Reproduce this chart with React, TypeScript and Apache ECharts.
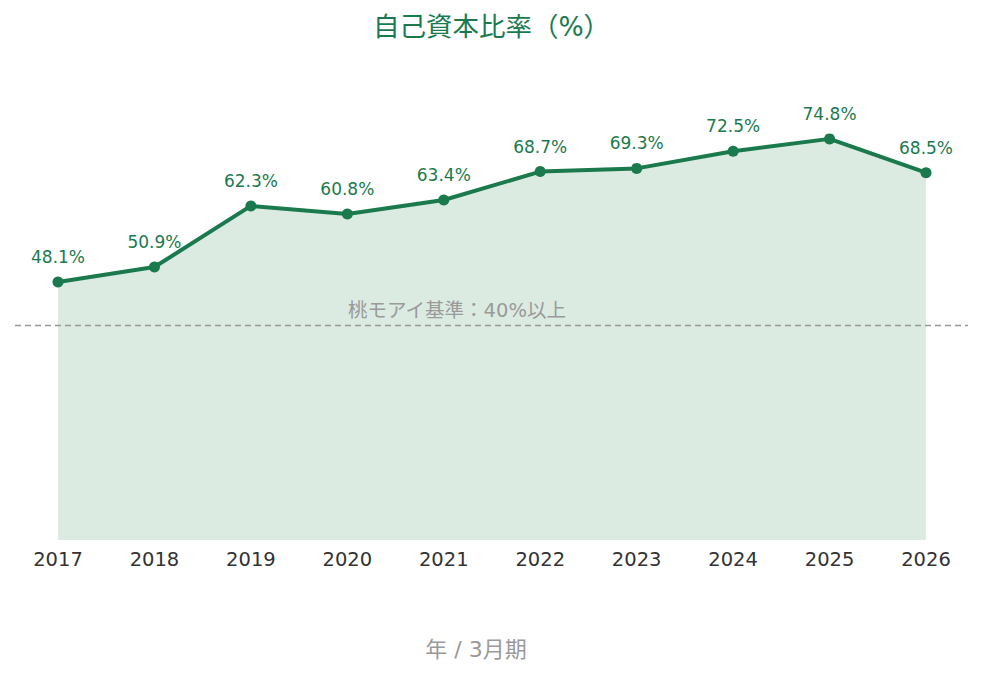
import React, { useEffect, useRef } from "react";
import * as echarts from "echarts";

const years = ["2017", "2018", "2019", "2020", "2021", "2022", "2023", "2024", "2025", "2026"];
const equityRatio = [48.1, 50.9, 62.3, 60.8, 63.4, 68.7, 69.3, 72.5, 74.8, 68.5];
const thresholdValue = 40;
const thresholdLabel = "桃モアイ基準：40%以上";

const GREEN = "#1b7a4d";
const FONT = "'DejaVu Sans', 'Noto Sans CJK JP', sans-serif";

export default function App() {
  const ref = useRef<HTMLDivElement>(null);

  useEffect(() => {
    document.body.style.margin = "0";
    if (!ref.current) return;
    const chart = echarts.init(ref.current, undefined, { renderer: "svg" });
    chart.setOption({
      animation: false,
      backgroundColor: "#ffffff",
      textStyle: { fontFamily: FONT },
      title: {
        text: "自己資本比率（%）",
        left: "center",
        top: 8,
        textStyle: { color: GREEN, fontSize: 26.5, fontWeight: "normal", fontFamily: FONT },
      },
      grid: { left: 58, right: 57, top: 111, bottom: 134 },
      xAxis: {
        type: "category",
        data: years,
        boundaryGap: false,
        axisLine: { show: false },
        axisTick: { show: false },
        axisLabel: { color: "#333333", fontSize: 19.5, margin: 10, fontFamily: FONT },
        name: "年 / 3月期",
        nameLocation: "middle",
        nameGap: 98,
        nameTextStyle: { color: "#999999", fontSize: 22, fontFamily: FONT, padding: [0, 32, 0, 0] },
      },
      yAxis: {
        type: "value",
        min: 0,
        max: 80,
        show: false,
        splitLine: { show: false },
      },
      series: [
        {
          type: "line",
          data: equityRatio,
          symbol: "circle",
          symbolSize: 11,
          lineStyle: { color: GREEN, width: 4 },
          itemStyle: { color: GREEN },
          areaStyle: { color: "#dbebe2", opacity: 1 },
          label: {
            show: true,
            position: "top",
            distance: 11,
            color: GREEN,
            fontSize: 17,
            fontFamily: FONT,
            formatter: (p: any) => `${p.value}%`,
          },
        },
      ],
    });

    // Dashed reference line spanning the full width, placed on the y scale
    const yPx = chart.convertToPixel({ yAxisIndex: 0 }, thresholdValue) as number;
    chart.setOption({
      graphic: [
        {
          type: "line",
          shape: { x1: 15, y1: yPx, x2: 968, y2: yPx },
          style: { stroke: "#999999", lineWidth: 1.6, lineDash: [6, 4] },
          z: 10,
        },
        {
          type: "text",
          x: 457,
          y: yPx - 5,
          style: {
            text: thresholdLabel,
            fill: "#9a9a9a",
            fontSize: 19.5,
            fontFamily: FONT,
            textAlign: "center",
            textVerticalAlign: "bottom",
          },
          z: 10,
        },
      ],
    });

    return () => chart.dispose();
  }, []);

  return <div ref={ref} style={{ width: 983, height: 674 }} />;
}
